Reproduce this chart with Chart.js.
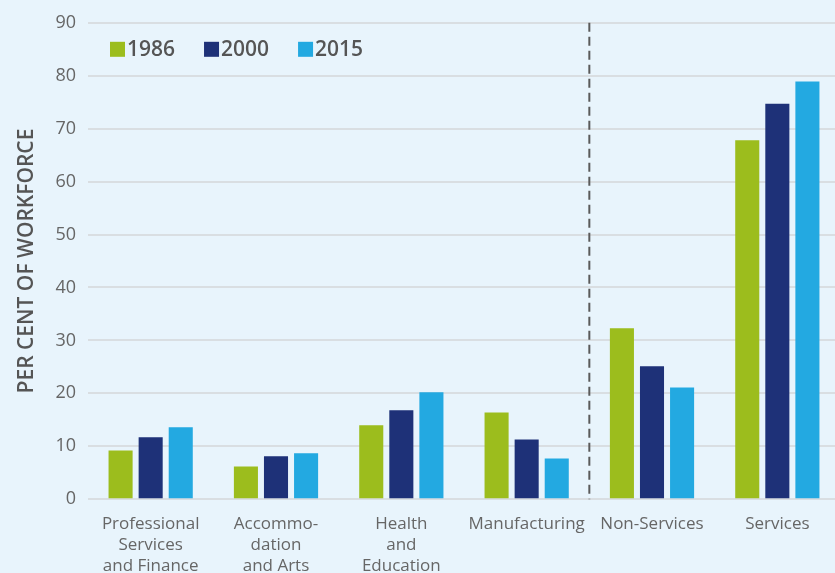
<!DOCTYPE html>
<html>
<head>
    <title>Workforce by sector</title>
    <meta charset="UTF-8">
    <script src="https://cdn.jsdelivr.net/npm/chart.js@4.4.1/dist/chart.umd.min.js"></script>
    <style>
        html, body { margin: 0; padding: 0; background: #e8f4fc; overflow: hidden; }
        /* slightly larger than the window: plot and labels run past the edges, as in the original */
        #wrap { width: 840px; height: 591px; position: relative; }
    </style>
</head>
<body>
    <div id="wrap"><canvas id="myChart"></canvas></div>

    <script>
        var categories = [
            ['Professional', 'Services', 'and Finance'],
            ['Accommo-', 'dation', 'and Arts'],
            ['Health', 'and', 'Education'],
            'Manufacturing',
            'Non-Services',
            'Services'
        ];
        var years = ['1986', '2000', '2015'];
        var values1986 = [9.2, 6.2, 14.0, 16.4, 32.3, 67.8];
        var values2000 = [11.7, 8.1, 16.8, 11.3, 25.1, 74.7];
        var values2015 = [13.6, 8.7, 20.2, 7.7, 21.1, 78.9];
        var yMin = 0, yMax = 90, yStep = 10;
        var dividerAfter = 3; // dashed line between Manufacturing and Non-Services

        var colors = ['#9cbd1d', '#1e3178', '#23a9e1'];
        var fontFamily = '"Open Sans", sans-serif';

        // dashed separator between the sector groups and the totals
        var dividerPlugin = {
            id: 'divider',
            afterDatasetsDraw: function (chart) {
                var x = chart.scales.x.getPixelForValue(dividerAfter + 0.5);
                var area = chart.chartArea;
                var ctx = chart.ctx;
                ctx.save();
                ctx.strokeStyle = '#5a5a5a';
                ctx.lineWidth = 2;
                ctx.setLineDash([9, 5]);
                ctx.beginPath();
                ctx.moveTo(x, area.top);
                ctx.lineTo(x, area.bottom);
                ctx.stroke();
                ctx.restore();
            }
        };

        // legend in one row inside the plot, top left
        var inlineLegend = {
            id: 'inlineLegend',
            afterDraw: function (chart) {
                var area = chart.chartArea;
                var ctx = chart.ctx;
                var x = area.left + 22;
                var y = area.top + 19;
                ctx.save();
                ctx.font = '600 21px ' + fontFamily;
                ctx.textBaseline = 'middle';
                ctx.textAlign = 'left';
                chart.data.datasets.forEach(function (ds) {
                    ctx.fillStyle = ds.backgroundColor;
                    ctx.fillRect(x, y, 15, 15);
                    ctx.fillStyle = '#555555';
                    ctx.fillText(ds.label, x + 17, y + 8.5);
                    x += 17 + ctx.measureText(ds.label).width + 29;
                });
                ctx.restore();
            }
        };

        var ctx = document.getElementById('myChart');
        var myChart = new Chart(ctx, {
            type: 'bar',
            data: {
                labels: categories,
                datasets: [
                    { label: years[0], data: values1986, backgroundColor: colors[0] },
                    { label: years[1], data: values2000, backgroundColor: colors[1] },
                    { label: years[2], data: values2015, backgroundColor: colors[2] }
                ]
            },
            options: {
                responsive: true,
                maintainAspectRatio: false,
                animation: false,
                layout: { padding: { top: 11, right: 0, left: 0, bottom: 0 } },
                datasets: {
                    bar: { barPercentage: 0.8, categoryPercentage: 0.72 }
                },
                plugins: {
                    legend: { display: false },
                    tooltip: { enabled: false }
                },
                scales: {
                    x: {
                        grid: { display: false, drawTicks: false },
                        border: { display: false },
                        ticks: {
                            padding: 14,
                            color: '#666666',
                            maxRotation: 0,
                            autoSkip: false,
                            font: { family: fontFamily, size: 17, lineHeight: 1.25 }
                        }
                    },
                    y: {
                        min: yMin,
                        max: yMax,
                        afterFit: function (scale) { scale.width = 88; },
                        grid: { color: '#d9dee2', lineWidth: 2, drawTicks: false },
                        border: { display: false },
                        ticks: {
                            stepSize: yStep,
                            padding: 12,
                            color: '#666666',
                            font: { family: fontFamily, size: 18 }
                        },
                        title: {
                            display: true,
                            text: 'PER CENT OF WORKFORCE',
                            color: '#555555',
                            padding: { top: 14, bottom: 0 },
                            font: { family: fontFamily, size: 21, weight: '600' }
                        }
                    }
                }
            },
            plugins: [dividerPlugin, inlineLegend]
        });
    </script>
</body>
</html>
